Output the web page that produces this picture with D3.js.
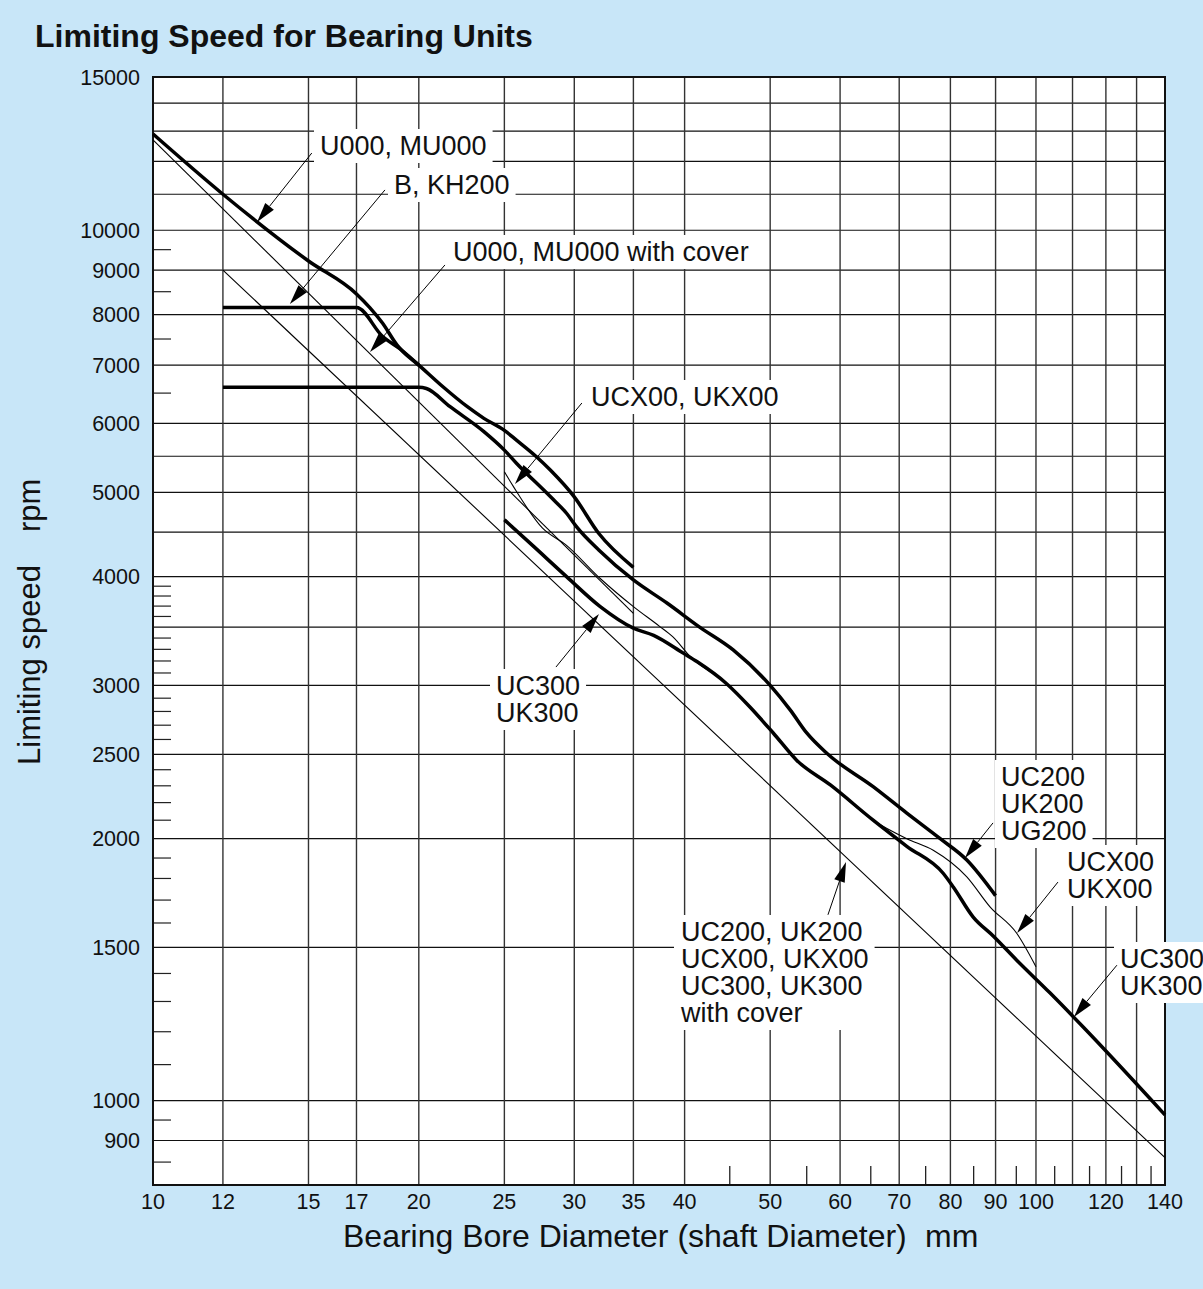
<!DOCTYPE html>
<html><head><meta charset="utf-8">
<script src="https://cdn.jsdelivr.net/npm/d3@7"></script>
<style>body{margin:0;padding:0;background:#c8e6f8;} svg{display:block;}</style>
</head><body>
<script>
// ---------------- data ----------------
const xTickLabels = [10,12,15,17,20,25,30,35,40,50,60,70,80,90,100,120,140];
const xGridValues = [12,15,17,20,25,30,35,40,50,60,70,80,90,100,110,120,130];
const xMinorTicks = [45,55,65,75,85,95,105,115,125,135];
const yTickLabels = [900,1000,1500,2000,2500,3000,4000,5000,6000,7000,8000,9000,10000,15000];
const yGridValues = [900,1000,1500,2000,2500,3000,3500,4000,4500,5000,5500,6000,7000,8000,9000,10000,11000,12000,13000,14000];
const yMinorTicks = [850,950,1100,1200,1300,1400,1600,1700,1800,1900,2100,2200,2300,2400,2600,2700,2800,2900,3100,3200,3300,3400,3600,3700,3800,3900,6500,7500,8500,9500];

// series: [bore diameter mm, limiting speed rpm]
const u000 = [[10,12900],[12,11000],[15,9220],[17,8450],[17.6,8150],[18.2,7820],[18.9,7380],[19.1,7290],[20,7000],[21.3,6610],[22.7,6270],[23.7,6080],[25,5890],[25.8,5740],[27.2,5490],[28.2,5300],[30,4940],[32,4480],[35,4100]];
const bKH200 = [[12,8150],[17,8150],[18.2,7550],[19.1,7290],[20,7000]];
const uc200 = [[12,6600],[20,6600],[20.4,6580],[21.7,6270],[23.7,5870],[25,5590],[25.8,5400],[28.2,4940],[29.4,4730],[30.2,4560],[32,4290],[35,3965],[38.2,3730],[41.6,3500],[45.4,3295],[50,3000],[52.7,2810],[55,2645],[58,2505],[65.4,2295],[71.4,2140],[77.9,2000],[83.5,1890],[90,1720]];
const uc300 = [[25,4650],[27,4330],[29.4,4000],[32.1,3695],[35,3490],[36.9,3425],[39.9,3265],[41.3,3195],[44.6,3015],[47.4,2835],[50.4,2645],[53.6,2460],[58.5,2305],[65.4,2100],[71.4,1960],[78.5,1825],[80.6,1760],[84.9,1625],[89.5,1545],[95.1,1450],[103.7,1330],[113.1,1215],[140,963]];
const ucx00 = [[25,5280],[25.6,5075],[27.6,4550],[29.4,4345],[32.1,3980],[35,3695],[37.5,3505],[38.8,3410],[40.6,3237],[44.6,3015],[47.4,2835],[50.4,2645],[53.6,2460],[58.5,2305],[65.4,2100],[71.4,2000],[76.5,1940],[83.5,1808],[88.7,1670],[95.1,1557],[100,1425]];
const u000Cover = [[10,12700],[35,3630]];
const uc200Cover = [[12,9000],[140,860]];

const thickSeries = [u000, bKH200, uc200, uc300];
const thinSeries = [u000Cover, uc200Cover, ucx00];

// annotations: label lines, arrow from / to in data units
const labels = [
  {lines:["U000, MU000"], x:320, y:155, from:[15.13,12267], to:[13.12,10222]},
  {lines:["B, KH200"], x:394, y:194, from:[18.31,11126], to:[14.29,8227]},
  {lines:["U000, MU000 with cover"], x:453, y:261, from:[21.41,9123], to:[17.61,7247]},
  {lines:["UCX00, UKX00"], x:591, y:406, from:[30.6,6332], to:[25.7,5111]},
  {lines:["UC300","UK300"], x:496, y:695, from:[28.6,3149], to:[32.0,3623]},
  {lines:["UC200","UK200","UG200"], x:1001, y:786, from:[89.4,2085], to:[83.1,1900]},
  {lines:["UCX00","UKX00"], x:1067, y:871, from:[105.9,1783], to:[95.2,1558]},
  {lines:["UC300","UK300"], x:1120, y:968, from:[123.5,1431], to:[110.4,1248]},
  {lines:["UC200, UK200","UCX00, UKX00","UC300, UK300","with cover"], x:681, y:941, from:[58.13,1635], to:[60.93,1880]}
];

// ---------------- drawing ----------------
const W = 1203, H = 1289;
const FONT = "'Liberation Sans', Arial, Helvetica, sans-serif";
const x = d3.scaleLog().domain([10,140]).range([153,1165]);
const y = d3.scaleLog().domain([800,15000]).range([1185,77]);

const svg = d3.select("body").append("svg").attr("width",W).attr("height",H)
  .style("font-family", FONT);
svg.append("rect").attr("width",W).attr("height",H).attr("fill","#c8e6f8");

// title
svg.append("text").attr("x",35).attr("y",47).attr("font-size",32).attr("font-weight","bold")
  .attr("fill","#111").text("Limiting Speed for Bearing Units");

// plot background
svg.append("rect").attr("x",x(10)).attr("y",y(15000)).attr("width",x(140)-x(10)).attr("height",y(800)-y(15000)).attr("fill","#fff");

const grid = svg.append("g");
grid.selectAll("line.h").data(yGridValues).join("line")
  .attr("x1",x(10)).attr("x2",x(140)).attr("y1",d=>y(d)).attr("y2",d=>y(d))
  .attr("stroke","#111").attr("stroke-width",1.2);
grid.selectAll("line.v").data(xGridValues).join("line")
  .attr("y1",y(15000)).attr("y2",y(800)).attr("x1",d=>x(d)).attr("x2",d=>x(d))
  .attr("stroke","#333").attr("stroke-width",1.4);
grid.selectAll("line.ym").data(yMinorTicks).join("line")
  .attr("x1",x(10)).attr("x2",x(10)+18).attr("y1",d=>y(d)).attr("y2",d=>y(d))
  .attr("stroke","#222").attr("stroke-width",1.2);
grid.selectAll("line.xm").data(xMinorTicks).join("line")
  .attr("y1",y(800)).attr("y2",y(800)-19).attr("x1",d=>x(d)).attr("x2",d=>x(d))
  .attr("stroke","#222").attr("stroke-width",1.3);

// border
svg.append("rect").attr("x",x(10)).attr("y",y(15000)).attr("width",x(140)-x(10)).attr("height",y(800)-y(15000))
  .attr("fill","none").attr("stroke","#111").attr("stroke-width",2);

// tick labels
svg.append("g").selectAll("text").data(yTickLabels).join("text")
  .attr("x",140).attr("y",d=>y(d)).attr("dy","0.36em").attr("text-anchor","end")
  .attr("font-size",21.5).attr("fill","#111").text(d=>d);
svg.append("g").selectAll("text").data(xTickLabels).join("text")
  .attr("x",d=>x(d)).attr("y",1209).attr("text-anchor","middle")
  .attr("font-size",21.5).attr("fill","#111").text(d=>d);

// axis titles
svg.append("text").attr("x",343).attr("y",1247).attr("font-size",32).attr("fill","#111")
  .text("Bearing Bore Diameter (shaft Diameter)");
svg.append("text").attr("x",925).attr("y",1247).attr("font-size",32).attr("fill","#111").text("mm");
svg.append("text").attr("transform","translate(40,765) rotate(-90)").attr("font-size",31).attr("fill","#111")
  .text("Limiting speed");
svg.append("text").attr("transform","translate(40,532) rotate(-90)").attr("font-size",31).attr("fill","#111")
  .text("rpm");

// label boxes + texts
const boxLayer = svg.append("g");
const curveLayer = svg.append("g");
const arrowLayer = svg.append("g");
const textLayer = svg.append("g");

labels.forEach(l => {
  const t = textLayer.append("text").attr("font-size",27).attr("fill","#111");
  l.lines.forEach((s,i) => {
    t.append("tspan").attr("x",l.x).attr("y",l.y + i*27).text(s);
  });
  const bb = t.node().getBBox();
  boxLayer.append("rect").attr("x",bb.x-6).attr("y",bb.y-2).attr("width",bb.width+12).attr("height",bb.height+4)
    .attr("fill","#fff");
});

// curves
const line = d3.line().x(d=>x(d[0])).y(d=>y(d[1])).curve(d3.curveMonotoneX);
curveLayer.selectAll("path.thick").data(thickSeries).join("path")
  .attr("d",line).attr("fill","none").attr("stroke","#000").attr("stroke-width",3.5)
  .attr("stroke-linejoin","round");
curveLayer.selectAll("path.thin").data(thinSeries).join("path")
  .attr("d",line).attr("fill","none").attr("stroke","#000").attr("stroke-width",1.1);

// arrows
labels.forEach(l => {
  const x1 = x(l.from[0]), y1 = y(l.from[1]), x2 = x(l.to[0]), y2 = y(l.to[1]);
  const dx = x2-x1, dy = y2-y1, len = Math.hypot(dx,dy);
  const ux = dx/len, uy = dy/len, nx = -uy, ny = ux;
  const L = 20, hw = 5.5;
  const bx = x2 - ux*L, by = y2 - uy*L;
  arrowLayer.append("line").attr("x1",x1).attr("y1",y1).attr("x2",bx).attr("y2",by)
    .attr("stroke","#000").attr("stroke-width",1);
  arrowLayer.append("polygon")
    .attr("points",[[x2,y2],[bx+nx*hw,by+ny*hw],[bx-nx*hw,by-ny*hw]].map(p=>p.join(",")).join(" "))
    .attr("fill","#000");
});
</script>
</body></html>
